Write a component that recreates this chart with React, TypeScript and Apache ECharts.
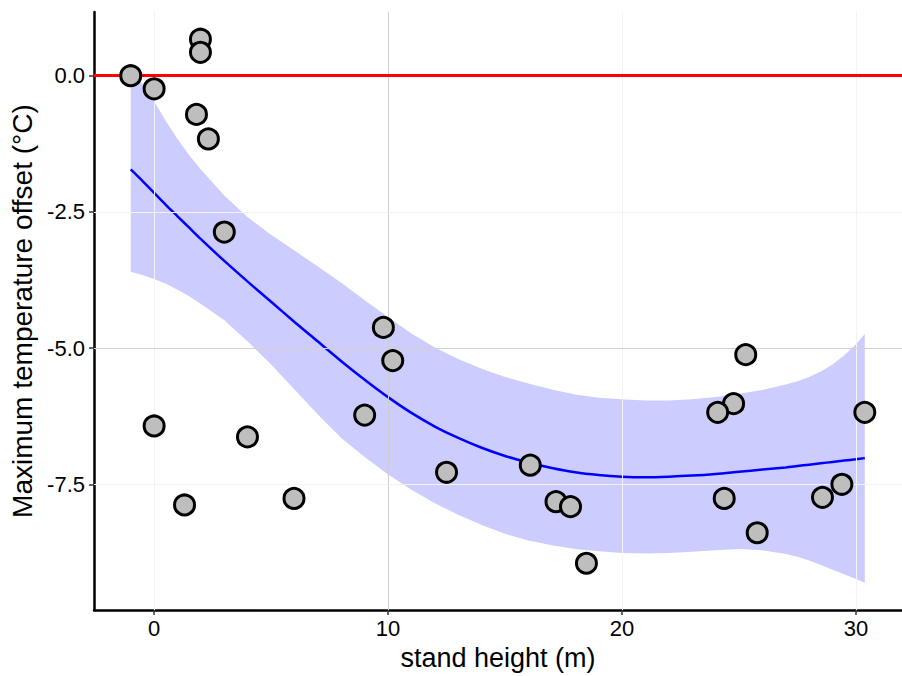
import React, { useEffect, useRef } from "react";
import * as echarts from "echarts";

// Observations: stand height (m) vs maximum temperature offset (°C)
const heightM = [
  -1.0, 0.0, 1.98, 1.98, 1.81, 2.32, 3.0, 9.8, 10.2, 9.0, 0.0, 3.99, 1.3, 5.98,
  12.5, 16.08, 17.18, 17.8, 18.48, 25.29, 24.77, 24.09, 24.37, 25.78, 28.57, 29.4, 30.38,
];
const tempOffset = [
  0.0, -0.24, 0.67, 0.43, -0.71, -1.16, -2.87, -4.62, -5.23, -6.23, -6.43, -6.63, -7.88, -7.76,
  -7.28, -7.15, -7.82, -7.91, -8.95, -5.12, -6.02, -6.18, -7.76, -8.39, -7.74, -7.5, -6.18,
];

// Loess fit and its confidence band
const smoothX = [
  -1, -0.5, 0, 0.5, 1, 1.5, 2, 3, 4, 5, 6, 7, 8, 9, 10, 11, 12, 13, 14, 15, 16, 17, 18, 19, 20,
  21, 22, 23, 24, 25, 26, 27, 27.5, 28, 28.5, 29, 29.5, 30, 30.38,
];
const smoothY = [
  -1.72, -1.93, -2.15, -2.37, -2.58, -2.79, -3.0, -3.4, -3.78, -4.15, -4.52, -4.88, -5.24, -5.58,
  -5.9, -6.19, -6.44, -6.65, -6.83, -6.98, -7.1, -7.2, -7.28, -7.33, -7.36, -7.37, -7.36, -7.34,
  -7.31, -7.27, -7.23, -7.19, -7.165, -7.14, -7.115, -7.09, -7.065, -7.04, -7.02,
];
const bandUpper = [
  0.12, -0.15, -0.47, -0.83, -1.16, -1.46, -1.72, -2.2, -2.6, -2.92, -3.21, -3.5, -3.8, -4.12,
  -4.43, -4.73, -4.99, -5.2, -5.38, -5.53, -5.65, -5.76, -5.85, -5.91, -5.94, -5.96, -5.96, -5.94,
  -5.9, -5.84, -5.77, -5.67, -5.61, -5.53, -5.43, -5.3, -5.13, -4.93, -4.74,
];
const bandLower = [
  -3.6, -3.66, -3.73, -3.82, -3.93, -4.05, -4.19, -4.49, -4.88, -5.3, -5.76, -6.22, -6.65, -7.0,
  -7.32, -7.6, -7.85, -8.06, -8.25, -8.41, -8.53, -8.62, -8.69, -8.73, -8.76, -8.77, -8.76, -8.74,
  -8.71, -8.69, -8.71, -8.78, -8.83, -8.9, -8.98, -9.07, -9.15, -9.24, -9.31,
];

const xTicks = [0, 10, 20, 30];
const yTicks = [0, -2.5, -5, -7.5];
const xRange = [-2.57, 31.97];
const yRange = [-9.81, 1.17];
const referenceY = 0;
const strongGridX = [10];
const strongGridY = [-5];

const FONT = "Liberation Sans, Arial, Helvetica, sans-serif";

export default function App() {
  const ref = useRef<HTMLDivElement>(null);

  useEffect(() => {
    if (!ref.current) return;
    const chart = echarts.init(ref.current, null, { renderer: "svg" });

    const bandData = smoothX.map((x, i) => [x, bandLower[i], bandUpper[i]]);
    const gridMarks = [
      ...xTicks.map((v) => ({
        xAxis: v,
        lineStyle: { color: strongGridX.includes(v) ? "#cdcdcd" : "#f3f3f3", width: 1, type: "solid" },
      })),
      ...yTicks.map((v) => ({
        yAxis: v,
        lineStyle: { color: strongGridY.includes(v) ? "#d2d2d2" : "#f3f3f3", width: 1, type: "solid" },
      })),
    ];

    chart.setOption({
      animation: false,
      backgroundColor: "#ffffff",
      grid: { left: 94, right: 0, top: 12, bottom: 63, containLabel: false },
      xAxis: {
        type: "value",
        min: xRange[0],
        max: xRange[1],
        splitLine: { show: false },
        axisLine: { show: true, onZero: false, lineStyle: { color: "#000", width: 2.5 } },
        axisTick: { show: true, length: 5, customValues: xTicks, lineStyle: { color: "#333", width: 1.5 } },
        axisLabel: {
          customValues: xTicks,
          fontSize: 22,
          color: "#000",
          fontFamily: FONT,
          margin: 7,
          formatter: (v: number) => String(v),
        },
        name: "stand height (m)",
        nameLocation: "middle",
        nameGap: 33,
        nameTextStyle: { fontSize: 27, color: "#000", fontFamily: FONT },
      },
      yAxis: {
        type: "value",
        min: yRange[0],
        max: yRange[1],
        splitLine: { show: false },
        axisLine: { show: true, onZero: false, lineStyle: { color: "#000", width: 2.5 } },
        axisTick: { show: true, length: 5, customValues: yTicks, lineStyle: { color: "#333", width: 1.5 } },
        axisLabel: {
          customValues: yTicks,
          fontSize: 22,
          color: "#000",
          fontFamily: FONT,
          margin: 9,
          formatter: (v: number) => v.toFixed(1),
        },
        name: "Maximum temperature offset (°C)",
        nameLocation: "middle",
        nameGap: 51,
        nameTextStyle: { fontSize: 28, color: "#000", fontFamily: FONT },
      },
      series: [
        {
          name: "grid",
          type: "line",
          data: [],
          z: 0,
          silent: true,
          markLine: { silent: true, symbol: "none", label: { show: false }, data: gridMarks, animation: false },
        },
        {
          name: "band",
          type: "custom",
          coordinateSystem: "cartesian2d",
          data: bandData,
          encode: { x: 0, y: [1, 2] },
          z: 1,
          silent: true,
          renderItem: (params: any, api: any) => {
            if (params.dataIndex !== 0) return null;
            const pts: number[][] = [];
            for (let i = 0; i < smoothX.length; i++) pts.push(api.coord([smoothX[i], bandUpper[i]]));
            for (let i = smoothX.length - 1; i >= 0; i--) pts.push(api.coord([smoothX[i], bandLower[i]]));
            return {
              type: "polygon",
              shape: { points: pts },
              style: { fill: "rgba(0,0,255,0.2)", stroke: "none" },
            };
          },
        },
        {
          name: "reference",
          type: "line",
          data: [],
          z: 3,
          silent: true,
          markLine: {
            silent: true,
            symbol: "none",
            label: { show: false },
            data: [{ yAxis: referenceY }],
            lineStyle: { color: "#ff0000", width: 3, type: "solid" },
            animation: false,
          },
        },
        {
          name: "loess",
          type: "line",
          data: smoothX.map((x, i) => [x, smoothY[i]]),
          showSymbol: false,
          smooth: 0.3,
          z: 4,
          silent: true,
          lineStyle: { color: "#0000ff", width: 2.5 },
        },
        {
          name: "observations",
          type: "scatter",
          data: heightM.map((x, i) => [x, tempOffset[i]]),
          symbol: "circle",
          symbolSize: 20,
          z: 5,
          itemStyle: { color: "#bebebe", borderColor: "#000", borderWidth: 3, opacity: 1 },
        },
      ],
    });

    return () => chart.dispose();
  }, []);

  return (
    <div
      ref={ref}
      style={{ position: "fixed", left: 0, top: 0, width: 902, height: 676, background: "#fff" }}
    />
  );
}
